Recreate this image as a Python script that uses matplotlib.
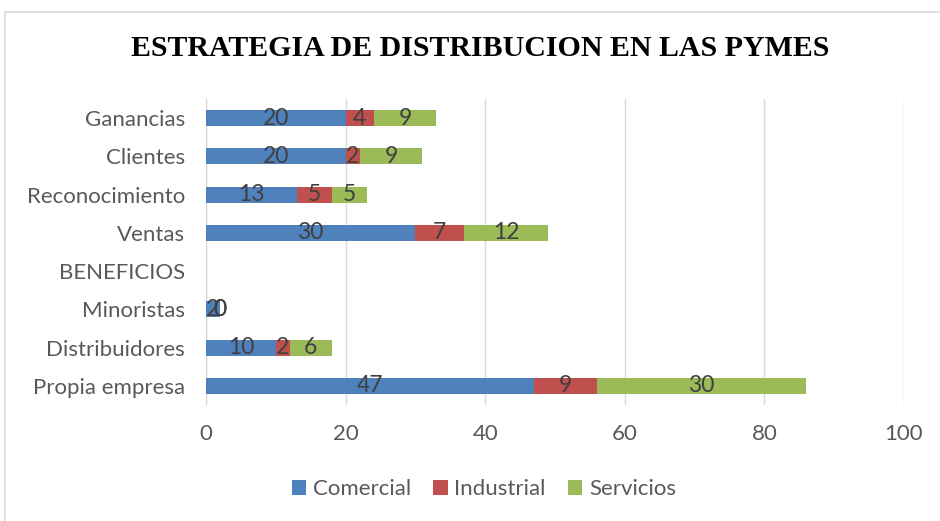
import matplotlib.pyplot as plt
import numpy as np
from matplotlib.patches import Rectangle

# data
categorias = ['Propia empresa', 'Distribuidores', 'Minoristas', 'BENEFICIOS',
              'Ventas', 'Reconocimiento', 'Clientes', 'Ganancias']
comercial = [47, 10, 2, None, 30, 13, 20, 20]
industrial = [9, 2, 0, None, 7, 5, 2, 4]
servicios = [30, 6, 0, None, 12, 5, 9, 9]
series = ['Comercial', 'Industrial', 'Servicios']
colores = ['#4F81BD', '#C0504D', '#9BBB59']

fig = plt.figure(figsize=(9.4, 5.21), dpi=100)
fig.patches.append(Rectangle((5 / 940, -0.1), 2, 1 - 12 / 521 + 0.1,
                             transform=fig.transFigure, fill=False,
                             edgecolor='#D9D9D9', linewidth=1.2))
ax = fig.add_axes([206 / 940, 1 - 405 / 521, 698 / 940, 306 / 521])

y = np.arange(len(categorias))
left = np.zeros(len(categorias))
for nombre, vals, col in zip(series, [comercial, industrial, servicios], colores):
    v = np.array([np.nan if x is None else x for x in vals], dtype=float)
    ax.barh(y, np.nan_to_num(v), left=left, height=0.42, color=col, label=nombre, zorder=3)
    # data labels centred in each segment (Minoristas 2/0/0 overlap, as in the original)
    for i, val in enumerate(v):
        if not np.isnan(val):
            ax.text(left[i] + val / 2, y[i], f'{val:g}', ha='center', va='center',
                    fontsize=16.5, color='#404040', family='Lato', zorder=4)
    left += np.nan_to_num(v)

ax.set_xlim(0, 100)
ax.set_ylim(-0.5, len(categorias) - 0.5)
ax.set_xticks(range(0, 101, 20))
ax.set_yticks(y)
ax.set_yticklabels(categorias)
ax.tick_params(length=0, labelsize=16, labelcolor='#595959')
ax.tick_params(axis='y', pad=15)
ax.tick_params(axis='x', pad=14)
for lab in ax.get_xticklabels() + ax.get_yticklabels():
    lab.set_family('Lato')
ax.xaxis.grid(True, color='#D9D9D9', linewidth=1, zorder=0)
for s in ax.spines.values():
    s.set_visible(False)
ax.axvline(0, color='#D9D9D9', linewidth=1, zorder=2)

fig.text(480 / 940, 1 - 49 / 521, 'ESTRATEGIA DE DISTRIBUCION EN LAS PYMES',
         ha='center', va='center', fontsize=21.5, fontweight='bold',
         family='Liberation Serif', color='black')

leg = fig.legend(loc='center', bbox_to_anchor=(484 / 940, 1 - 489 / 521), ncol=3,
                 frameon=False, prop={'family': 'Lato', 'size': 16},
                 handlelength=0.65, handleheight=0.65, columnspacing=1.0, handletextpad=0.3)
for t in leg.get_texts():
    t.set_color('#595959')

fig.savefig('out.png', dpi=100)
